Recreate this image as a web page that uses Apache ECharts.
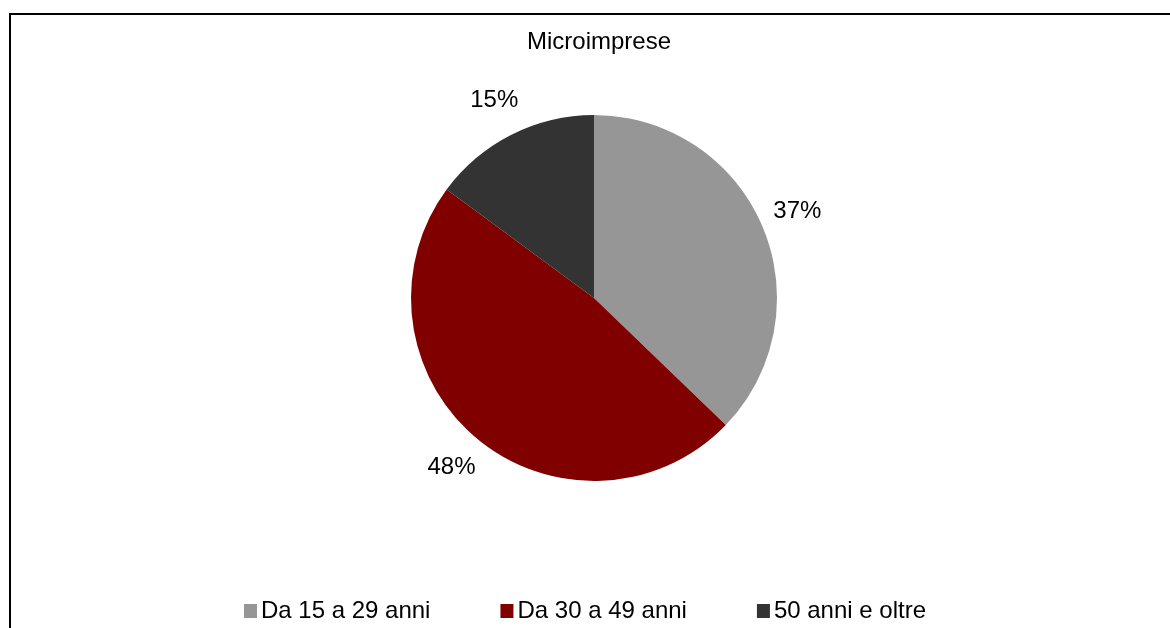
<!DOCTYPE html>
<html>
<head>
<meta charset="utf-8">
<script src="https://cdn.jsdelivr.net/npm/echarts@6/dist/echarts.min.js"></script>
<style>
  html, body { margin: 0; padding: 0; background: #fff; }
  #chart { width: 1170px; height: 628px; }
</style>
</head>
<body>
<div id="chart"></div>
<script>
// age classes of the micro-enterprise owners (shares)
const categories = ['Da 15 a 29 anni', 'Da 30 a 49 anni', '50 anni e oltre'];
const values = [37.2, 47.9, 14.9];
const colors = ['#969696', '#800000', '#333333'];

const chart = echarts.init(document.getElementById('chart'));

let data = categories.map((name, i) => ({
  name: name,
  value: values[i],
  itemStyle: { color: colors[i] }
}));

let labelFont = {
  fontFamily: 'Liberation Sans',
  fontSize: 24,
  color: '#000'
}

let options = {
  backgroundColor: '#fff',
  animation: false,
  title: {
    text: 'Microimprese',
    left: 522,
    top: 25,
    textStyle: {
      fontFamily: 'Liberation Sans',
      fontSize: 24,
      fontWeight: 'normal',
      color: '#000'
    }
  },
  legend: {
    bottom: 0,
    left: 'center',
    itemWidth: 13,
    itemHeight: 14,
    itemGap: 70,
    icon: 'rect',
    textStyle: {
      fontFamily: 'Liberation Sans',
      fontSize: 24,
      color: '#000',
      padding: [0, 0, 0, -1]
    },
    data: categories
  },
  graphic: [
    {
      type: 'rect',
      shape: { x: 10, y: 14, width: 1180, height: 640 },
      style: { fill: 'none', stroke: '#000', lineWidth: 2 },
      z: 10
    }
  ],
  series: [
    {
      type: 'pie',
      center: [594, 298],
      radius: 183,
      startAngle: 90,
      clockwise: true,
      data: data,
      label: { show: false },
      labelLine: { show: false },
      itemStyle: { borderWidth: 0 },
      emphasis: { disabled: true }
    },
    // invisible ring only used to put the percent labels at a fixed distance
    {
      type: 'pie',
      center: [594, 298],
      radius: [0, 436],
      startAngle: 90,
      clockwise: true,
      silent: true,
      percentPrecision: 0,
      data: data.map(d => ({ name: d.name, value: d.value })),
      itemStyle: { color: 'rgba(0,0,0,0)', borderWidth: 0 },
      label: Object.assign({
        show: true,
        position: 'inside',
        formatter: '{d}%'
      }, labelFont),
      labelLine: { show: false },
      emphasis: { disabled: true },
      z: 1
    }
  ]
};

chart.setOption(options);
</script>
</body>
</html>
